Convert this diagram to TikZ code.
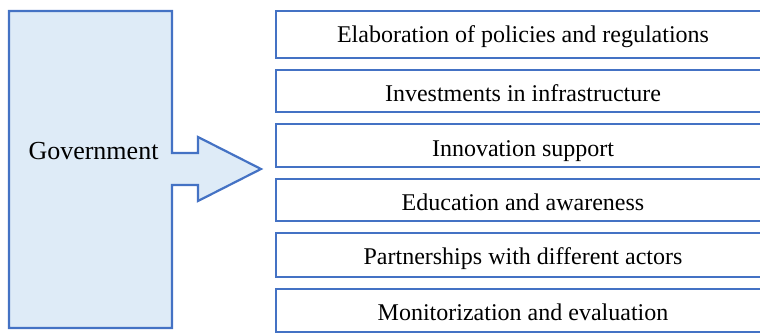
\documentclass[tikz,border=0pt]{standalone}
\usepackage{fontspec}
\setmainfont{Liberation Serif}
\definecolor{edgeblue}{HTML}{4472C4}
\definecolor{fillblue}{HTML}{DEEBF7}
\begin{document}
\begin{tikzpicture}[x=1pt,y=-1pt,
  itembox/.style={draw=edgeblue,line width=2.2pt,fill=white,rectangle,inner sep=0pt},
  itemtext/.style={font=\fontsize{24}{29}\selectfont,anchor=base,inner sep=0pt},
  govtext/.style={font=\fontsize{26}{31}\selectfont,anchor=base,inner sep=0pt}]
\useasboundingbox (0,0) rectangle (760,334);
\clip (0,0) rectangle (760,334);
% Government block arrow
\draw[draw=edgeblue,fill=fillblue,line width=2.2pt,line join=miter]
  (9,11) -- (172,11) -- (172,153) -- (198,153) -- (198,137) -- (261,169)
  -- (198,201) -- (198,185) -- (172,185) -- (172,328) -- (9,328) -- cycle;
\node[govtext] (gov) at (93.5,159) {Government};
% item boxes
\foreach \n/\t/\b in {1/11/58,2/70/112,3/124/167,4/179/221,5/233/277,6/289/332}{
  \draw[itembox] (276,\t) rectangle (771,\b);
}
\node[itemtext] (t1) at (523,43) {Elaboration of policies and regulations};
\node[itemtext] (t2) at (523,102) {Investments in infrastructure};
\node[itemtext] (t3) at (523,157) {Innovation support};
\node[itemtext] (t4) at (523,210) {Education and awareness};
\node[itemtext] (t5) at (523,264) {Partnerships with different actors};
\node[itemtext] (t6) at (523,320) {Monitorization and evaluation};
\end{tikzpicture}
\end{document}
